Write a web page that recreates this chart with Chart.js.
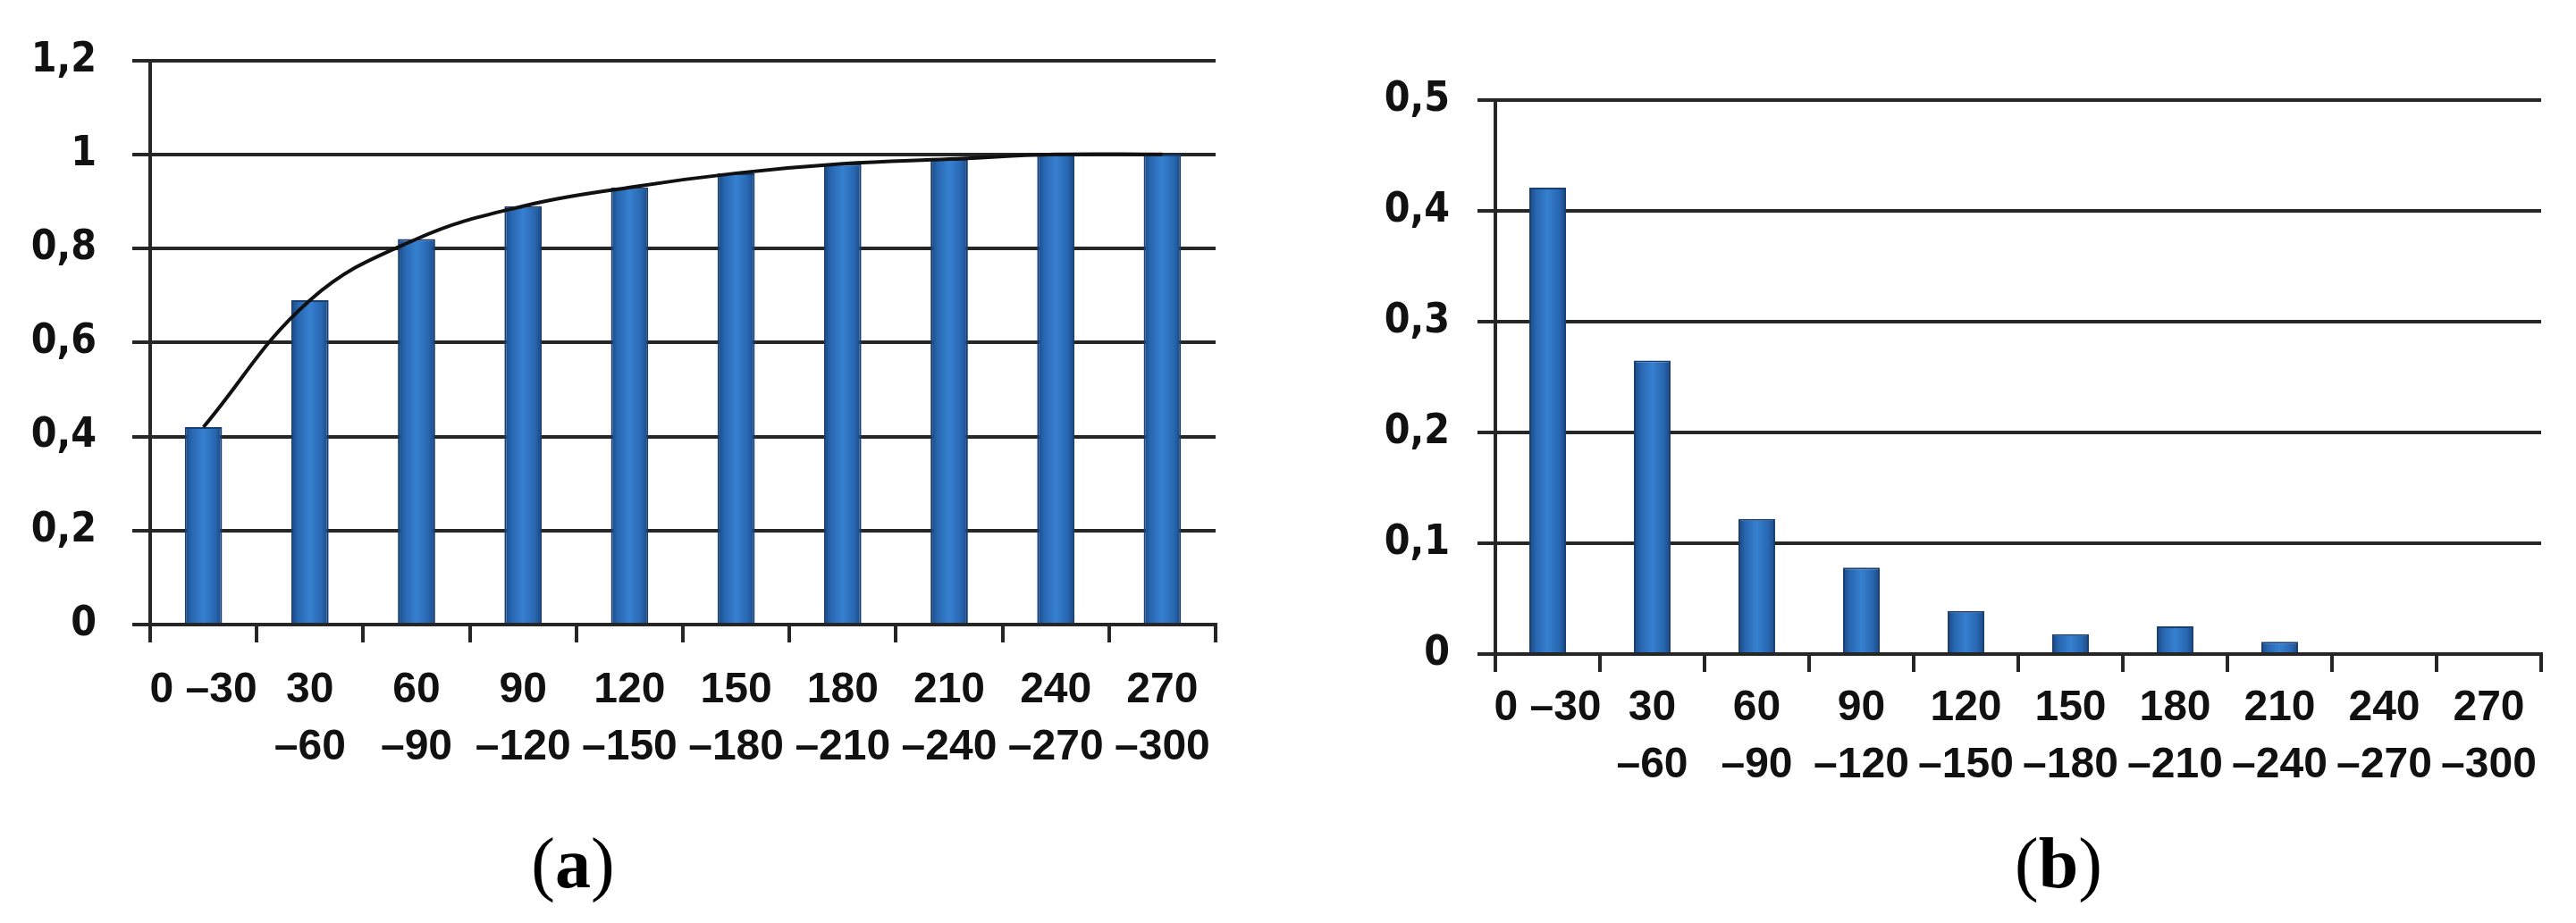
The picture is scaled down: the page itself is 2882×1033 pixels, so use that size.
<!DOCTYPE html>
<html>
<head>
<meta charset="utf-8">
<script src="https://cdn.jsdelivr.net/npm/chart.js@4.4.1/dist/chart.umd.min.js"></script>
<style>
    body { margin: 0; width: 2882px; height: 1033px; background: #fff; position: relative; overflow: hidden; }
    canvas { position: absolute; top: 0; }
    #chartA { left: 0; }
    #chartB { left: 1550px; }
    .caption {
        position: absolute; top: 926px; width: 300px; text-align: center;
        font-family: "Liberation Serif", "DejaVu Serif", serif; font-size: 80px; line-height: 80px; color: #000;
    }
    .caption b { font-weight: bold; }
</style>
</head>
<body>
<canvas id="chartA" width="1400" height="900"></canvas>
<canvas id="chartB" width="1332" height="900"></canvas>
<div class="caption" style="left:491px">(<b>a</b>)</div>
<div class="caption" style="left:2153px">(<b>b</b>)</div>
<script>
    "use strict";

    // interval classes, min
    const categories = [
        ["0 –30"], ["30", "–60"], ["60", "–90"], ["90", "–120"], ["120", "–150"],
        ["150", "–180"], ["180", "–210"], ["210", "–240"], ["240", "–270"], ["270", "–300"]
    ];
    // (a) cumulative share
    const cumulativeShare = [0.42, 0.69, 0.82, 0.89, 0.93, 0.96, 0.98, 0.99, 1.0, 1.0];
    // (b) share per interval
    const intervalShare = [0.421, 0.265, 0.122, 0.078, 0.039, 0.018, 0.025, 0.011, 0, 0];

    const ticksA = [0, 0.2, 0.4, 0.6, 0.8, 1, 1.2];
    const ticksB = [0, 0.1, 0.2, 0.3, 0.4, 0.5];

    const lineColor = "#262626";
    const BAR_PCT = 0.35;

    function fmt(v) {
        return String(Number(v.toFixed(1))).replace(".", ",");
    }

    // horizontal gradient like the old office bars
    function barFill(ctx) {
        const chart = ctx.chart;
        const xs = chart.scales && chart.scales.x;
        if (!xs || ctx.dataIndex === undefined) return "#2f74c0";
        const cx = xs.getPixelForValue(ctx.dataIndex);
        const half = (xs.width / categories.length) * BAR_PCT / 2;
        if (!Number.isFinite(cx) || !Number.isFinite(half) || half <= 0) return "#2f74c0";
        const g = chart.ctx.createLinearGradient(cx - half, 0, cx + half, 0);
        g.addColorStop(0, "#18467f");
        g.addColorStop(0.18, "#2866b0");
        g.addColorStop(0.5, "#3680d0");
        g.addColorStop(0.82, "#2866b0");
        g.addColorStop(1, "#18467f");
        return g;
    }

    function makeChart(id, cfg) {
        const datasets = [{
            type: "bar",
            data: cfg.bars,
            backgroundColor: barFill,
            borderColor: "#173f73",
            borderWidth: 2,
            borderSkipped: "bottom",
            barPercentage: BAR_PCT,
            categoryPercentage: 1,
            order: 2
        }];
        if (cfg.line) {
            datasets.push({
                type: "line",
                data: cfg.line,
                borderColor: "#111",
                borderWidth: 4,
                pointRadius: 0,
                tension: 0.4,
                fill: false,
                order: 1
            });
        }
        return new Chart(document.getElementById(id), {
            type: "bar",
            data: { labels: categories, datasets: datasets },
            options: {
                responsive: false,
                animation: false,
                devicePixelRatio: 1,
                layout: { padding: { top: cfg.top, right: cfg.right, left: 0, bottom: 0 } },
                plugins: { legend: { display: false }, tooltip: { enabled: false } },
                scales: {
                    x: {
                        grid: { drawOnChartArea: false, drawTicks: true, tickLength: 20, color: lineColor, lineWidth: 4 },
                        border: { color: lineColor, width: 4 },
                        ticks: {
                            color: "#111", padding: cfg.xPad, maxRotation: 0, autoSkip: false,
                            font: { family: "Liberation Sans", size: 48, weight: "bold", lineHeight: 1.35 }
                        },
                        afterFit: s => { s.height = cfg.xHeight; }
                    },
                    y: {
                        min: 0,
                        max: cfg.ticks[cfg.ticks.length - 1],
                        afterBuildTicks: s => { s.ticks = cfg.ticks.map(v => ({ value: v })); },
                        grid: { color: lineColor, lineWidth: 4, tickLength: 20 },
                        border: { color: lineColor, width: 4 },
                        ticks: {
                            color: "#111", padding: cfg.yPad,
                            font: { family: "'DejaVu Sans Condensed', 'DejaVu Sans'", size: 46, weight: "bold" },
                            callback: v => fmt(v)
                        },
                        afterFit: s => { s.width = cfg.yWidth; }
                    }
                }
            }
        });
    }

    const chartA = makeChart("chartA", {
        bars: cumulativeShare, line: cumulativeShare, ticks: ticksA,
        top: 50, right: 40, yWidth: 168, xHeight: 201, xPad: 21, yPad: 40
    });
    const chartB = makeChart("chartB", {
        bars: intervalShare, ticks: ticksB,
        top: 112, right: 39, yWidth: 123, xHeight: 168, xPad: 8, yPad: 31
    });
    // second pass so the gradients see the laid-out scales
    chartA.update();
    chartB.update();
</script>
</body>
</html>
